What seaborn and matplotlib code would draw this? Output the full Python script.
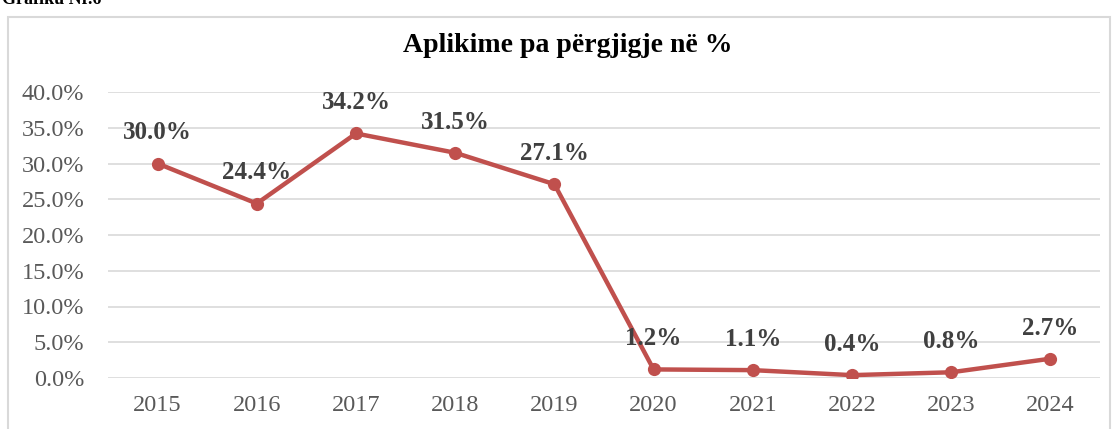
import matplotlib
matplotlib.use("Agg")
import matplotlib.pyplot as plt
import seaborn as sns
import pandas as pd
from matplotlib.patches import Rectangle

years = ["2015", "2016", "2017", "2018", "2019", "2020", "2021", "2022", "2023", "2024"]
values = [30.0, 24.4, 34.2, 31.5, 27.1, 1.2, 1.1, 0.4, 0.8, 2.7]
yticks = [0, 5, 10, 15, 20, 25, 30, 35, 40]
title = "Aplikime pa përgjigje në %"
caption = "Grafiku Nr.6"

sns.set_theme(style="white")
plt.rcParams['font.family'] = ['Liberation Serif', 'DejaVu Serif']

df = pd.DataFrame({"year": years, "value": values})

fig = plt.figure(figsize=(11.18, 4.29), dpi=100)
ax = fig.add_axes([108/1118, 1-378/429, (1100-108)/1118, (378-92)/429])

sns.lineplot(data=df, x="year", y="value", ax=ax, color="#C0504D", linewidth=3.2,
             marker="o", markersize=9.5, markeredgewidth=0, sort=False)

ax.set_xlim(-0.5, len(years)-0.5)
ax.set_ylim(0, 40)
ax.set_yticks(yticks)
ax.set_yticklabels([f"{v:.1f}%" for v in yticks])
ax.set_xlabel("")
ax.set_ylabel("")
ax.grid(axis="y", color="#d9d9d9", linewidth=1.2)
ax.set_axisbelow(True)
for s in ax.spines.values():
    s.set_visible(False)
ax.tick_params(axis="both", length=0, labelsize=17.5, labelcolor="#595959")
ax.tick_params(axis="y", pad=17)
ax.tick_params(axis="x", pad=12)

for i, v in enumerate(values):
    ax.annotate(f"{v:.1f}%", (i, v), xytext=(0, 22), textcoords="offset points",
                ha="center", va="center", fontsize=18, fontweight="bold", color="#404040")

fig.text(568/1118, 1-45/429, title, ha="center", va="center", fontsize=20,
         fontweight="bold", color="#000000")
fig.text(2/1118, 1.0, caption, ha="left", va="center", fontsize=13,
         fontweight="bold", color="#000000")

fig.patches.append(Rectangle((8/1118, -0.05), (1110-8)/1118, 1.05-17/429,
                             transform=fig.transFigure, fill=False,
                             edgecolor="#d9d9d9", linewidth=1.5))

fig.savefig("out.png", dpi=100)
